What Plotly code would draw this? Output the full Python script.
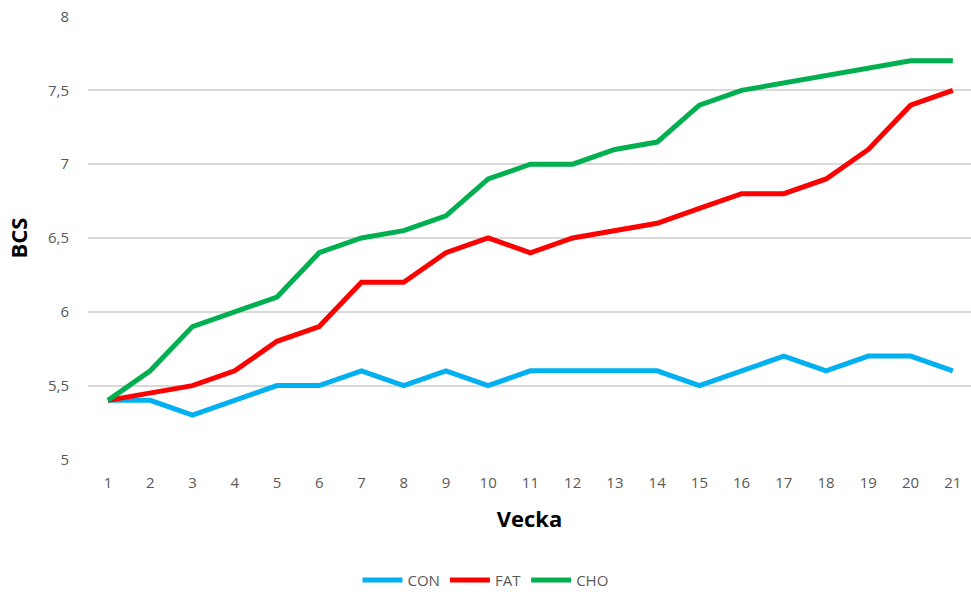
import plotly.graph_objects as go

weeks = list(range(1, 22))
con = [5.4, 5.4, 5.3, 5.4, 5.5, 5.5, 5.6, 5.5, 5.6, 5.5, 5.6, 5.6, 5.6, 5.6, 5.5, 5.6, 5.7, 5.6, 5.7, 5.7, 5.6]
fat = [5.4, 5.45, 5.5, 5.6, 5.8, 5.9, 6.2, 6.2, 6.4, 6.5, 6.4, 6.5, 6.55, 6.6, 6.7, 6.8, 6.8, 6.9, 7.1, 7.4, 7.5]
cho = [5.4, 5.6, 5.9, 6.0, 6.1, 6.4, 6.5, 6.55, 6.65, 6.9, 7.0, 7.0, 7.1, 7.15, 7.4, 7.5, 7.55, 7.6, 7.65, 7.7, 7.7]
y_ticks = [5, 5.5, 6, 6.5, 7, 7.5, 8]
y_labels = ["5", "5,5", "6", "6,5", "7", "7,5", "8"]

fig = go.Figure()
for name, vals, col in [("CON", con, "#00B0F0"), ("FAT", fat, "#FF0000"), ("CHO", cho, "#00B050")]:
    fig.add_trace(go.Scatter(x=weeks, y=vals, name=name, mode="lines",
                             line=dict(color=col, width=5)))

font = "Open Sans, Noto Sans, sans-serif"
fig.update_layout(
    width=971, height=592,
    margin=dict(l=88, r=0, t=16, b=132, autoexpand=False),
    plot_bgcolor="white", paper_bgcolor="white",
    font=dict(family=font, color="#595959", size=15),
    showlegend=True,
    legend=dict(orientation="h", x=0.5, xanchor="center", xref="container",
                y=0.02, yanchor="middle", yref="container",
                font=dict(size=15, color="#595959"), itemwidth=40),
    xaxis=dict(range=[0.527, 21.43], tickmode="array", tickvals=weeks,
               ticktext=[str(w) for w in weeks], showgrid=False, zeroline=False,
               showline=False, ticks="", automargin=False, ticklabelstandoff=12,
               tickfont=dict(size=15, color="#595959"),
               title=dict(text="<b>Vecka</b>", font=dict(size=22, color="#000000"), standoff=20)),
    yaxis=dict(range=[4.996, 8.004], tickmode="array", tickvals=y_ticks, ticktext=y_labels,
               showgrid=True, gridcolor="#D9D9D9", gridwidth=1.6, zeroline=False,
               showline=False, ticks="", ticklabelstandoff=18, automargin=False,
               tickfont=dict(size=15, color="#595959"),
               title=dict(text="<b>BCS</b>", font=dict(size=22, color="#000000"), standoff=14)),
)
fig.write_html("out.html", config={"displayModeBar": False},
               post_script="document.body.style.margin='0px';document.body.style.overflow='hidden';")
